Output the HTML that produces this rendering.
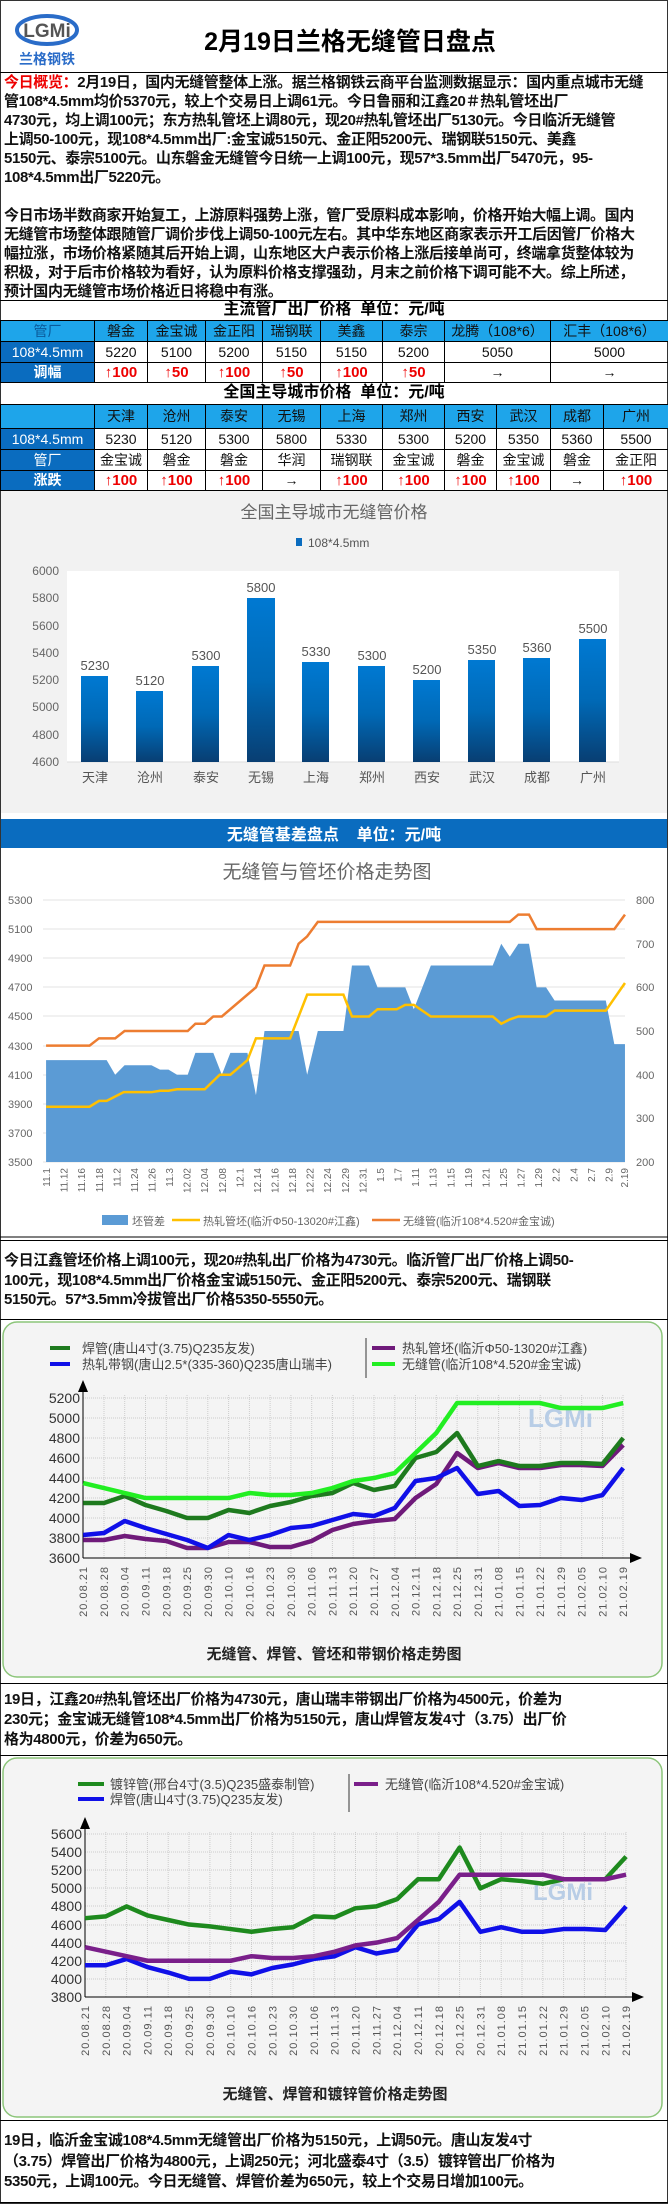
<!DOCTYPE html>
<html><head><meta charset="utf-8">
<style>
*{margin:0;padding:0;box-sizing:border-box}
body{width:668px;height:2204px;position:relative;background:#fff;font-family:"Liberation Sans","Noto Sans CJK SC",sans-serif;overflow:hidden}
.abs{position:absolute}
.txt{position:absolute;left:4px;width:662px;font-size:15px;font-weight:bold;color:#111;white-space:nowrap;letter-spacing:-0.35px;overflow:hidden}
.hl{position:absolute;left:0;width:668px;height:1px;background:#000}
table{border-collapse:collapse;position:absolute;left:0;table-layout:fixed}
td{border:1px solid #000;text-align:center;font-size:14px;line-height:17px;color:#111;overflow:hidden;white-space:nowrap;padding:0}
.c{background:#1ea5ea}
.d{background:#0a6cbf;color:#fff;font-weight:bold}
.r{color:#e00;font-weight:bold;font-size:15px}
.ttl{position:absolute;left:0;width:668px;text-align:center;font-weight:bold;font-size:16px;line-height:20px}
</style></head><body>
<div class="abs" style="left:0;top:0;width:668px;height:2204px;border:1px solid #333"></div>
<svg class="abs" style="left:10px;top:8px" width="75" height="60">
<ellipse cx="37" cy="22" rx="30" ry="14" fill="none" stroke="#2a6cc8" stroke-width="4"/>
<text x="37" y="29" text-anchor="middle" font-family="Liberation Sans" font-weight="bold" font-size="19" fill="#555">LGMi</text>
<text x="37" y="56" text-anchor="middle" font-family="Noto Sans CJK SC" font-weight="bold" font-size="14" fill="#2a6cc8">兰格钢铁</text>
</svg>
<div class="abs" style="left:150px;top:22px;width:400px;text-align:center;font-size:25px;font-weight:bold">2月19日兰格无缝管日盘点</div>
<div class="hl" style="top:72px"></div>
<div class="txt" style="top:73px;line-height:19px">
<div><span style="color:#e00">今日概览：</span>2月19日，国内无缝管整体上涨。据兰格钢铁云商平台监测数据显示：国内重点城市无缝</div>
<div>管108*4.5mm均价5370元，较上个交易日上调61元。今日鲁丽和江鑫20＃热轧管坯出厂</div>
<div>4730元，均上调100元；东方热轧管坯上调80元，现20#热轧管坯出厂5130元。今日临沂无缝管</div>
<div>上调50-100元，现108*4.5mm出厂:金宝诚5150元、金正阳5200元、瑞钢联5150元、美鑫</div>
<div>5150元、泰宗5100元。山东磐金无缝管今日统一上调100元，现57*3.5mm出厂5470元，95-</div>
<div>108*4.5mm出厂5220元。</div>
</div>
<div class="txt" style="top:206px;line-height:19px">
<div>今日市场半数商家开始复工，上游原料强势上涨，管厂受原料成本影响，价格开始大幅上调。国内</div>
<div>无缝管市场整体跟随管厂调价步伐上调50-100元左右。其中华东地区商家表示开工后因管厂价格大</div>
<div>幅拉涨，市场价格紧随其后开始上调，山东地区大户表示价格上涨后接单尚可，终端拿货整体较为</div>
<div>积极，对于后市价格较为看好，认为原料价格支撑强劲，月末之前价格下调可能不大。综上所述，</div>
<div>预计国内无缝管市场价格近日将稳中有涨。</div>
</div>
<div class="hl" style="top:300px"></div>
<div class="ttl" style="top:300px">主流管厂出厂价格&nbsp;&nbsp;单位：元/吨</div>
<table style="top:320px;width:668px">
<colgroup><col style="width:94px"><col style="width:53px"><col style="width:58px"><col style="width:57px"><col style="width:58px"><col style="width:62px"><col style="width:62px"><col style="width:106px"><col style="width:118px"></colgroup>
<tr style="height:21px"><td class="c" style="color:#0a5a9a">管厂</td><td class="c">磐金</td><td class="c">金宝诚</td><td class="c">金正阳</td><td class="c">瑞钢联</td><td class="c">美鑫</td><td class="c">泰宗</td><td class="c">龙腾（108*6）</td><td class="c">汇丰（108*6）</td></tr>
<tr style="height:21px"><td class="d" style="font-weight:normal">108*4.5mm</td><td>5220</td><td>5100</td><td>5200</td><td>5150</td><td>5150</td><td>5200</td><td>5050</td><td>5000</td></tr>
<tr style="height:20px"><td class="d">调幅</td><td class="r">↑100</td><td class="r">↑50</td><td class="r">↑100</td><td class="r">↑50</td><td class="r">↑100</td><td class="r">↑50</td><td>→</td><td>→</td></tr>
</table>
<div class="ttl" style="top:383px">全国主导城市价格&nbsp;&nbsp;单位：元/吨</div>
<table style="top:404px;width:668px">
<colgroup><col style="width:94px"><col style="width:53px"><col style="width:58px"><col style="width:57px"><col style="width:58px"><col style="width:62px"><col style="width:62px"><col style="width:52px"><col style="width:54px"><col style="width:53px"><col style="width:65px"></colgroup>
<tr style="height:24px"><td class="c"></td><td class="c">天津</td><td class="c">沧州</td><td class="c">泰安</td><td class="c">无锡</td><td class="c">上海</td><td class="c">郑州</td><td class="c">西安</td><td class="c">武汉</td><td class="c">成都</td><td class="c">广州</td></tr>
<tr style="height:21px"><td class="d" style="font-weight:normal">108*4.5mm</td><td>5230</td><td>5120</td><td>5300</td><td>5800</td><td>5330</td><td>5300</td><td>5200</td><td>5350</td><td>5360</td><td>5500</td></tr>
<tr style="height:21px"><td class="d" style="font-weight:normal">管厂</td><td>金宝诚</td><td>磐金</td><td>磐金</td><td>华润</td><td>瑞钢联</td><td>金宝诚</td><td>磐金</td><td>金宝诚</td><td>磐金</td><td>金正阳</td></tr>
<tr style="height:20px"><td class="d">涨跌</td><td class="r">↑100</td><td class="r">↑100</td><td class="r">↑100</td><td>→</td><td class="r">↑100</td><td class="r">↑100</td><td class="r">↑100</td><td class="r">↑100</td><td>→</td><td class="r">↑100</td></tr>
</table>

<svg class="abs" style="left:0;top:0" width="668" height="2204" font-family="Liberation Sans, Noto Sans CJK SC, sans-serif">
<defs>
<linearGradient id="bg" x1="0" y1="0" x2="0" y2="1"><stop offset="0" stop-color="#0079d2"/><stop offset="0.5" stop-color="#0069b6"/><stop offset="1" stop-color="#083e72"/></linearGradient>
</defs>
<rect x="1" y="491" width="666" height="322" fill="#f2f2f2"/>
<text x="334" y="518" text-anchor="middle" font-size="17" fill="#666">全国主导城市无缝管价格</text>
<rect x="296" y="538" width="6" height="8" fill="#0a6cbf"/>
<text x="308" y="547" font-size="12" fill="#555">108*4.5mm</text>
<rect x="67" y="571" width="552" height="191" fill="#fff"/>
<g font-size="12" fill="#666" text-anchor="end">
<text x="59" y="575">6000</text><text x="59" y="602">5800</text><text x="59" y="630">5600</text><text x="59" y="657">5400</text><text x="59" y="684">5200</text><text x="59" y="711">5000</text><text x="59" y="739">4800</text><text x="59" y="766">4600</text>
</g>
<line x1="67" y1="762" x2="619" y2="762" stroke="#ddd"/>
<g fill="url(#bg)">
<rect x="81" y="676" width="27" height="86"/><rect x="136" y="691" width="27" height="71"/><rect x="192" y="666" width="27" height="96"/><rect x="247" y="598" width="28" height="164"/><rect x="302" y="662" width="27" height="100"/><rect x="358" y="666" width="27" height="96"/><rect x="413" y="680" width="27" height="82"/><rect x="468" y="660" width="27" height="102"/><rect x="523" y="658" width="27" height="104"/><rect x="579" y="639" width="27" height="123"/>
</g>
<g font-size="13" fill="#555" text-anchor="middle">
<text x="95" y="670">5230</text><text x="150" y="685">5120</text><text x="206" y="660">5300</text><text x="261" y="592">5800</text><text x="316" y="656">5330</text><text x="372" y="660">5300</text><text x="427" y="674">5200</text><text x="482" y="654">5350</text><text x="537" y="652">5360</text><text x="593" y="633">5500</text>
</g>
<g font-size="13" fill="#555" text-anchor="middle">
<text x="95" y="782">天津</text><text x="150" y="782">沧州</text><text x="206" y="782">泰安</text><text x="261" y="782">无锡</text><text x="316" y="782">上海</text><text x="372" y="782">郑州</text><text x="427" y="782">西安</text><text x="482" y="782">武汉</text><text x="537" y="782">成都</text><text x="593" y="782">广州</text>
</g>
<rect x="1" y="819" width="666" height="29" fill="#0a6cbf"/>
<text x="334" y="840" text-anchor="middle" font-size="16" font-weight="bold" fill="#fff">无缝管基差盘点&nbsp;&nbsp;&nbsp;&nbsp;单位：元/吨</text>
<text x="327" y="878" text-anchor="middle" font-size="19" fill="#666">无缝管与管坯价格走势图</text>
<g stroke="#e3e3e3">
<line x1="43" y1="900" x2="625" y2="900"/><line x1="43" y1="929" x2="625" y2="929"/><line x1="43" y1="958" x2="625" y2="958"/><line x1="43" y1="987" x2="625" y2="987"/><line x1="43" y1="1016" x2="625" y2="1016"/><line x1="43" y1="1046" x2="625" y2="1046"/><line x1="43" y1="1075" x2="625" y2="1075"/><line x1="43" y1="1104" x2="625" y2="1104"/><line x1="43" y1="1133" x2="625" y2="1133"/><line x1="43" y1="1162" x2="625" y2="1162"/>
</g>
<g font-size="11" fill="#666">
<text x="8" y="904">5300</text><text x="8" y="933">5100</text><text x="8" y="962">4900</text><text x="8" y="991">4700</text><text x="8" y="1020">4500</text><text x="8" y="1050">4300</text><text x="8" y="1079">4100</text><text x="8" y="1108">3900</text><text x="8" y="1137">3700</text><text x="8" y="1166">3500</text>
<text x="636" y="904">800</text><text x="636" y="948">700</text><text x="636" y="991">600</text><text x="636" y="1035">500</text><text x="636" y="1079">400</text><text x="636" y="1122">300</text><text x="636" y="1166">200</text>
</g>
<g transform="matrix(0.4266,0,0,-0.14556,0,1671.5)">
<polygon fill="#5b9bd5" points="108,3500 108,4200 250,4200 270,4100 292,4165 355,4165 375,4135 395,4135 415,4100 440,4100 458,4250 500,4250 520,4100 540,4250 580,4250 600,3960 620,4400 700,4400 720,4100 745,4400 805,4400 825,4850 865,4850 885,4700 950,4700 970,4550 1010,4850 1155,4850 1175,5000 1195,4910 1215,5000 1240,5000 1258,4700 1280,4700 1300,4610 1420,4610 1440,4310 1465,4310 1465,3500"/>
<polyline fill="none" stroke="#ffc000" stroke-width="2.5" vector-effect="non-scaling-stroke" points="108,3880 210,3880 232,3920 250,3920 290,3980 355,3980 375,3990 395,3990 415,4000 480,4000 515,4100 540,4100 580,4200 600,4350 680,4350 720,4650 805,4650 825,4500 865,4500 885,4550 930,4550 950,4580 970,4580 1010,4500 1155,4500 1175,4450 1195,4480 1215,4500 1280,4500 1300,4540 1420,4540 1465,4730"/>
<polyline fill="none" stroke="#ed7d31" stroke-width="2.5" vector-effect="non-scaling-stroke" points="108,4300 210,4300 232,4350 270,4350 292,4400 440,4400 458,4450 480,4450 500,4500 520,4500 600,4700 620,4850 680,4850 700,5000 720,5050 745,5150 1195,5150 1215,5200 1240,5200 1258,5100 1440,5100 1465,5200"/>
</g>
<g font-size="10" fill="#666" text-anchor="end">
<text transform="translate(50,1168) rotate(-90)">11.1</text><text transform="translate(67.6,1168) rotate(-90)">11.12</text><text transform="translate(85.2,1168) rotate(-90)">11.16</text><text transform="translate(102.8,1168) rotate(-90)">11.18</text><text transform="translate(120.3,1168) rotate(-90)">11.2</text><text transform="translate(137.9,1168) rotate(-90)">11.24</text><text transform="translate(155.5,1168) rotate(-90)">11.26</text><text transform="translate(173.1,1168) rotate(-90)">11.3</text><text transform="translate(190.6,1168) rotate(-90)">12.02</text><text transform="translate(208.2,1168) rotate(-90)">12.04</text><text transform="translate(225.8,1168) rotate(-90)">12.08</text><text transform="translate(243.4,1168) rotate(-90)">12.1</text><text transform="translate(260.9,1168) rotate(-90)">12.14</text><text transform="translate(278.5,1168) rotate(-90)">12.16</text><text transform="translate(296.1,1168) rotate(-90)">12.18</text><text transform="translate(313.7,1168) rotate(-90)">12.22</text><text transform="translate(331.2,1168) rotate(-90)">12.24</text><text transform="translate(348.8,1168) rotate(-90)">12.29</text><text transform="translate(366.4,1168) rotate(-90)">12.31</text><text transform="translate(384,1168) rotate(-90)">1.5</text><text transform="translate(401.5,1168) rotate(-90)">1.7</text><text transform="translate(419.1,1168) rotate(-90)">1.11</text><text transform="translate(436.7,1168) rotate(-90)">1.13</text><text transform="translate(454.3,1168) rotate(-90)">1.15</text><text transform="translate(471.8,1168) rotate(-90)">1.19</text><text transform="translate(489.4,1168) rotate(-90)">1.21</text><text transform="translate(507,1168) rotate(-90)">1.25</text><text transform="translate(524.6,1168) rotate(-90)">1.27</text><text transform="translate(542.1,1168) rotate(-90)">1.29</text><text transform="translate(559.7,1168) rotate(-90)">2.2</text><text transform="translate(577.3,1168) rotate(-90)">2.4</text><text transform="translate(594.9,1168) rotate(-90)">2.7</text><text transform="translate(612.4,1168) rotate(-90)">2.9</text><text transform="translate(628,1168) rotate(-90)">2.19</text>
</g>
<rect x="102" y="1215" width="26" height="10" fill="#5b9bd5"/><text x="132" y="1225" font-size="11" fill="#666">坯管差</text>
<line x1="172" y1="1220" x2="200" y2="1220" stroke="#ffc000" stroke-width="2.5"/><text x="203" y="1225" font-size="11" fill="#666">热轧管坯(临沂Φ50-13020#江鑫)</text>
<line x1="372" y1="1220" x2="400" y2="1220" stroke="#ed7d31" stroke-width="2.5"/><text x="403" y="1225" font-size="11" fill="#666">无缝管(临沂108*4.520#金宝诚)</text>
<line x1="0" y1="1237" x2="668" y2="1237" stroke="#000"/>

<rect x="3" y="1322" width="659" height="355" rx="14" fill="#f4f4f4" stroke="#8cc57a" stroke-width="1.5"/>
<g stroke="#ccc" stroke-dasharray="1,1">
<line x1="83" y1="1398" x2="623" y2="1398"/><line x1="83" y1="1418" x2="623" y2="1418"/><line x1="83" y1="1438" x2="623" y2="1438"/><line x1="83" y1="1458" x2="623" y2="1458"/><line x1="83" y1="1478" x2="623" y2="1478"/><line x1="83" y1="1498" x2="623" y2="1498"/><line x1="83" y1="1518" x2="623" y2="1518"/><line x1="83" y1="1538" x2="623" y2="1538"/>
</g>
<g stroke="#ccc" stroke-dasharray="1,1">
<line x1="104" y1="1395" x2="104" y2="1558"/><line x1="124.7" y1="1395" x2="124.7" y2="1558"/><line x1="145.5" y1="1395" x2="145.5" y2="1558"/><line x1="166.3" y1="1395" x2="166.3" y2="1558"/><line x1="187" y1="1395" x2="187" y2="1558"/><line x1="207.8" y1="1395" x2="207.8" y2="1558"/><line x1="228.6" y1="1395" x2="228.6" y2="1558"/><line x1="249.4" y1="1395" x2="249.4" y2="1558"/><line x1="270.1" y1="1395" x2="270.1" y2="1558"/><line x1="290.9" y1="1395" x2="290.9" y2="1558"/><line x1="311.7" y1="1395" x2="311.7" y2="1558"/><line x1="332.4" y1="1395" x2="332.4" y2="1558"/><line x1="353.2" y1="1395" x2="353.2" y2="1558"/><line x1="374" y1="1395" x2="374" y2="1558"/><line x1="394.8" y1="1395" x2="394.8" y2="1558"/><line x1="415.5" y1="1395" x2="415.5" y2="1558"/><line x1="436.3" y1="1395" x2="436.3" y2="1558"/><line x1="457.1" y1="1395" x2="457.1" y2="1558"/><line x1="477.8" y1="1395" x2="477.8" y2="1558"/><line x1="498.6" y1="1395" x2="498.6" y2="1558"/><line x1="519.4" y1="1395" x2="519.4" y2="1558"/><line x1="540.2" y1="1395" x2="540.2" y2="1558"/><line x1="560.9" y1="1395" x2="560.9" y2="1558"/><line x1="581.7" y1="1395" x2="581.7" y2="1558"/><line x1="602.5" y1="1395" x2="602.5" y2="1558"/><line x1="623" y1="1395" x2="623" y2="1558"/>
</g>
<line x1="83" y1="1385" x2="83" y2="1558" stroke="#000"/><line x1="83" y1="1558" x2="636" y2="1558" stroke="#000"/>
<polygon points="78,1392 83,1380 88,1392"/><polygon points="630,1553 642,1558 630,1563"/>
<text x="528" y="1427" font-size="26" font-weight="bold" fill="#b8cde6" font-family="Liberation Sans">LGMi</text>
<g font-size="14" fill="#333" text-anchor="end">
<text x="80" y="1403">5200</text><text x="80" y="1423">5000</text><text x="80" y="1443">4800</text><text x="80" y="1463">4600</text><text x="80" y="1483">4400</text><text x="80" y="1503">4200</text><text x="80" y="1523">4000</text><text x="80" y="1543">3800</text><text x="80" y="1563">3600</text>
</g>
<g transform="matrix(20.77,0,0,-0.1,83.2,1918)" fill="none" stroke-width="4.5" stroke-linejoin="round">
<polyline vector-effect="non-scaling-stroke" stroke="#6f1a7a" points="0,3780 1,3780 2,3820 3,3790 4,3770 5,3700 6,3700 7,3760 8,3760 9,3710 10,3710 11,3770 12,3880 13,3940 14,3970 15,3990 16,4200 17,4340 18,4650 19,4500 20,4550 21,4500 22,4500 23,4530 24,4530 25,4520 26,4730"/>
<polyline vector-effect="non-scaling-stroke" stroke="#1010e8" points="0,3830 1,3850 2,3970 3,3900 4,3840 5,3780 6,3700 7,3830 8,3780 9,3830 10,3900 11,3920 12,3980 13,4040 14,4020 15,4100 16,4370 17,4400 18,4500 19,4240 20,4270 21,4120 22,4130 23,4200 24,4180 25,4230 26,4500"/>
<polyline vector-effect="non-scaling-stroke" stroke="#1e7a1e" points="0,4150 1,4150 2,4220 3,4130 4,4070 5,4000 6,4000 7,4080 8,4050 9,4120 10,4160 11,4220 12,4250 13,4350 14,4280 15,4320 16,4600 17,4660 18,4850 19,4520 20,4570 21,4520 22,4520 23,4550 24,4550 25,4540 26,4800"/>
<polyline vector-effect="non-scaling-stroke" stroke="#22ee22" points="0,4350 1,4300 2,4250 3,4200 4,4200 5,4200 6,4200 7,4200 8,4250 9,4230 10,4230 11,4250 12,4300 13,4370 14,4400 15,4450 16,4650 17,4850 18,5150 19,5150 20,5150 21,5150 22,5150 23,5100 24,5100 25,5100 26,5150"/>
</g>
<g font-size="11" fill="#555" text-anchor="end" letter-spacing="1">
<text transform="translate(87,1566) rotate(-90)">20.08.21</text><text transform="translate(108,1566) rotate(-90)">20.08.28</text><text transform="translate(128.7,1566) rotate(-90)">20.09.04</text><text transform="translate(149.5,1566) rotate(-90)">20.09.11</text><text transform="translate(170.3,1566) rotate(-90)">20.09.18</text><text transform="translate(191,1566) rotate(-90)">20.09.25</text><text transform="translate(211.8,1566) rotate(-90)">20.09.30</text><text transform="translate(232.6,1566) rotate(-90)">20.10.10</text><text transform="translate(253.4,1566) rotate(-90)">20.10.16</text><text transform="translate(274.1,1566) rotate(-90)">20.10.23</text><text transform="translate(294.9,1566) rotate(-90)">20.10.30</text><text transform="translate(315.7,1566) rotate(-90)">20.11.06</text><text transform="translate(336.4,1566) rotate(-90)">20.11.13</text><text transform="translate(357.2,1566) rotate(-90)">20.11.20</text><text transform="translate(378,1566) rotate(-90)">20.11.27</text><text transform="translate(398.8,1566) rotate(-90)">20.12.04</text><text transform="translate(419.5,1566) rotate(-90)">20.12.11</text><text transform="translate(440.3,1566) rotate(-90)">20.12.18</text><text transform="translate(461.1,1566) rotate(-90)">20.12.25</text><text transform="translate(481.8,1566) rotate(-90)">20.12.31</text><text transform="translate(502.6,1566) rotate(-90)">21.01.08</text><text transform="translate(523.4,1566) rotate(-90)">21.01.15</text><text transform="translate(544.2,1566) rotate(-90)">21.01.22</text><text transform="translate(564.9,1566) rotate(-90)">21.01.29</text><text transform="translate(585.7,1566) rotate(-90)">21.02.05</text><text transform="translate(606.5,1566) rotate(-90)">21.02.10</text><text transform="translate(627,1566) rotate(-90)">21.02.19</text>
</g>
<line x1="50" y1="1348" x2="70" y2="1348" stroke="#1e7a1e" stroke-width="4"/><text x="82" y="1353" font-size="13" fill="#444">焊管(唐山4寸(3.75)Q235友发)</text>
<line x1="50" y1="1364" x2="70" y2="1364" stroke="#1010e8" stroke-width="4"/><text x="82" y="1369" font-size="13" fill="#444">热轧带钢(唐山2.5*(335-360)Q235唐山瑞丰)</text>
<line x1="366" y1="1338" x2="366" y2="1378" stroke="#333"/>
<line x1="372" y1="1348" x2="395" y2="1348" stroke="#6f1a7a" stroke-width="4"/><text x="402" y="1353" font-size="13" fill="#444">热轧管坯(临沂Φ50-13020#江鑫)</text>
<line x1="372" y1="1364" x2="395" y2="1364" stroke="#22ee22" stroke-width="4"/><text x="402" y="1369" font-size="13" fill="#444">无缝管(临沂108*4.520#金宝诚)</text>
<text x="334" y="1659" text-anchor="middle" font-size="15" font-weight="bold" fill="#222">无缝管、焊管、管坯和带钢价格走势图</text>

<rect x="3" y="1758" width="659" height="359" rx="14" fill="#f4f4f4" stroke="#8cc57a" stroke-width="1.5"/>
<g stroke="#ccc" stroke-dasharray="1,1">
<line x1="85" y1="1834" x2="626" y2="1834"/><line x1="85" y1="1852" x2="626" y2="1852"/><line x1="85" y1="1870" x2="626" y2="1870"/><line x1="85" y1="1888" x2="626" y2="1888"/><line x1="85" y1="1906" x2="626" y2="1906"/><line x1="85" y1="1925" x2="626" y2="1925"/><line x1="85" y1="1943" x2="626" y2="1943"/><line x1="85" y1="1961" x2="626" y2="1961"/><line x1="85" y1="1979" x2="626" y2="1979"/>
</g>
<g stroke="#ccc" stroke-dasharray="1,1">
<line x1="105.8" y1="1832" x2="105.8" y2="1997"/><line x1="126.6" y1="1832" x2="126.6" y2="1997"/><line x1="147.4" y1="1832" x2="147.4" y2="1997"/><line x1="168.2" y1="1832" x2="168.2" y2="1997"/><line x1="189" y1="1832" x2="189" y2="1997"/><line x1="209.9" y1="1832" x2="209.9" y2="1997"/><line x1="230.7" y1="1832" x2="230.7" y2="1997"/><line x1="251.5" y1="1832" x2="251.5" y2="1997"/><line x1="272.3" y1="1832" x2="272.3" y2="1997"/><line x1="293.1" y1="1832" x2="293.1" y2="1997"/><line x1="313.9" y1="1832" x2="313.9" y2="1997"/><line x1="334.7" y1="1832" x2="334.7" y2="1997"/><line x1="355.5" y1="1832" x2="355.5" y2="1997"/><line x1="376.3" y1="1832" x2="376.3" y2="1997"/><line x1="397.2" y1="1832" x2="397.2" y2="1997"/><line x1="418" y1="1832" x2="418" y2="1997"/><line x1="438.8" y1="1832" x2="438.8" y2="1997"/><line x1="459.6" y1="1832" x2="459.6" y2="1997"/><line x1="480.4" y1="1832" x2="480.4" y2="1997"/><line x1="501.2" y1="1832" x2="501.2" y2="1997"/><line x1="522" y1="1832" x2="522" y2="1997"/><line x1="542.8" y1="1832" x2="542.8" y2="1997"/><line x1="563.6" y1="1832" x2="563.6" y2="1997"/><line x1="584.4" y1="1832" x2="584.4" y2="1997"/><line x1="605.3" y1="1832" x2="605.3" y2="1997"/><line x1="626" y1="1832" x2="626" y2="1997"/>
</g>
<line x1="85" y1="1822" x2="85" y2="1997" stroke="#000"/><line x1="85" y1="1997" x2="638" y2="1997" stroke="#000"/>
<polygon points="80,1829 85,1817 90,1829"/><polygon points="632,1992 644,1997 632,2002"/>
<text x="533" y="1900" font-size="24" font-weight="bold" fill="#b8cde6" font-family="Liberation Sans">LGMi</text>
<g font-size="14" fill="#333" text-anchor="end">
<text x="82" y="1839">5600</text><text x="82" y="1857">5400</text><text x="82" y="1875">5200</text><text x="82" y="1893">5000</text><text x="82" y="1911">4800</text><text x="82" y="1930">4600</text><text x="82" y="1948">4400</text><text x="82" y="1966">4200</text><text x="82" y="1984">4000</text><text x="82" y="2002">3800</text>
</g>
<g transform="matrix(20.81,0,0,-0.09056,85,2341.1)" fill="none" stroke-width="4.5" stroke-linejoin="round">
<polyline vector-effect="non-scaling-stroke" stroke="#1010e8" points="0,4150 1,4150 2,4220 3,4130 4,4070 5,4000 6,4000 7,4080 8,4050 9,4120 10,4160 11,4220 12,4250 13,4350 14,4280 15,4320 16,4600 17,4660 18,4850 19,4520 20,4570 21,4520 22,4520 23,4550 24,4550 25,4540 26,4800"/>
<polyline vector-effect="non-scaling-stroke" stroke="#1e8a1e" points="0,4670 1,4690 2,4800 3,4700 4,4650 5,4600 6,4580 7,4550 8,4520 9,4550 10,4570 11,4690 12,4680 13,4780 14,4800 15,4880 16,5100 17,5100 18,5450 19,5000 20,5100 21,5080 22,5050 23,5100 24,5100 25,5100 26,5350"/>
<polyline vector-effect="non-scaling-stroke" stroke="#7a1f8a" points="0,4350 1,4300 2,4250 3,4200 4,4200 5,4200 6,4200 7,4200 8,4250 9,4230 10,4230 11,4250 12,4300 13,4370 14,4400 15,4450 16,4650 17,4850 18,5150 19,5150 20,5150 21,5150 22,5150 23,5100 24,5100 25,5100 26,5150"/>
</g>
<g font-size="11" fill="#555" text-anchor="end" letter-spacing="1">
<text transform="translate(89,2005) rotate(-90)">20.08.21</text><text transform="translate(109.8,2005) rotate(-90)">20.08.28</text><text transform="translate(130.6,2005) rotate(-90)">20.09.04</text><text transform="translate(151.4,2005) rotate(-90)">20.09.11</text><text transform="translate(172.2,2005) rotate(-90)">20.09.18</text><text transform="translate(193,2005) rotate(-90)">20.09.25</text><text transform="translate(213.9,2005) rotate(-90)">20.09.30</text><text transform="translate(234.7,2005) rotate(-90)">20.10.10</text><text transform="translate(255.5,2005) rotate(-90)">20.10.16</text><text transform="translate(276.3,2005) rotate(-90)">20.10.23</text><text transform="translate(297.1,2005) rotate(-90)">20.10.30</text><text transform="translate(317.9,2005) rotate(-90)">20.11.06</text><text transform="translate(338.7,2005) rotate(-90)">20.11.13</text><text transform="translate(359.5,2005) rotate(-90)">20.11.20</text><text transform="translate(380.3,2005) rotate(-90)">20.11.27</text><text transform="translate(401.2,2005) rotate(-90)">20.12.04</text><text transform="translate(422,2005) rotate(-90)">20.12.11</text><text transform="translate(442.8,2005) rotate(-90)">20.12.18</text><text transform="translate(463.6,2005) rotate(-90)">20.12.25</text><text transform="translate(484.4,2005) rotate(-90)">20.12.31</text><text transform="translate(505.2,2005) rotate(-90)">21.01.08</text><text transform="translate(526,2005) rotate(-90)">21.01.15</text><text transform="translate(546.8,2005) rotate(-90)">21.01.22</text><text transform="translate(567.6,2005) rotate(-90)">21.01.29</text><text transform="translate(588.4,2005) rotate(-90)">21.02.05</text><text transform="translate(609.3,2005) rotate(-90)">21.02.10</text><text transform="translate(630,2005) rotate(-90)">21.02.19</text>
</g>
<line x1="78" y1="1784" x2="104" y2="1784" stroke="#1e8a1e" stroke-width="4"/><text x="110" y="1789" font-size="13" fill="#444">镀锌管(邢台4寸(3.5)Q235盛泰制管)</text>
<line x1="78" y1="1799" x2="104" y2="1799" stroke="#1010e8" stroke-width="4"/><text x="110" y="1804" font-size="13" fill="#444">焊管(唐山4寸(3.75)Q235友发)</text>
<line x1="349" y1="1774" x2="349" y2="1812" stroke="#333"/>
<line x1="354" y1="1784" x2="378" y2="1784" stroke="#7a1f8a" stroke-width="4"/><text x="385" y="1789" font-size="13" fill="#444">无缝管(临沂108*4.520#金宝诚)</text>
<text x="335" y="2099" text-anchor="middle" font-size="15" font-weight="bold" fill="#222">无缝管、焊管和镀锌管价格走势图</text>
</svg>

<div class="hl" style="top:1240px"></div>
<div class="txt" style="top:1251px;line-height:19.5px">
<div>今日江鑫管坯价格上调100元，现20#热轧出厂价格为4730元。临沂管厂出厂价格上调50-</div>
<div>100元，现108*4.5mm出厂价格金宝诚5150元、金正阳5200元、泰宗5200元、瑞钢联</div>
<div>5150元。57*3.5mm冷拔管出厂价格5350-5550元。</div>
</div>
<div class="hl" style="top:1319px"></div>
<div class="hl" style="top:1683px"></div>
<div class="txt" style="top:1690px;line-height:20px">
<div>19日，江鑫20#热轧管坯出厂价格为4730元，唐山瑞丰带钢出厂价格为4500元，价差为</div>
<div>230元；金宝诚无缝管108*4.5mm出厂价格为5150元，唐山焊管友发4寸（3.75）出厂价</div>
<div>格为4800元，价差为650元。</div>
</div>
<div class="hl" style="top:1755px"></div>
<div class="hl" style="top:2120px"></div>
<div class="txt" style="top:2131px;line-height:20.5px">
<div>19日，临沂金宝诚108*4.5mm无缝管出厂价格为5150元，上调50元。唐山友发4寸</div>
<div>（3.75）焊管出厂价格为4800元，上调250元；河北盛泰4寸（3.5）镀锌管出厂价格为</div>
<div>5350元，上调100元。今日无缝管、焊管价差为650元，较上个交易日增加100元。</div>
</div>
<div class="hl" style="top:2202px"></div>
</body></html>
